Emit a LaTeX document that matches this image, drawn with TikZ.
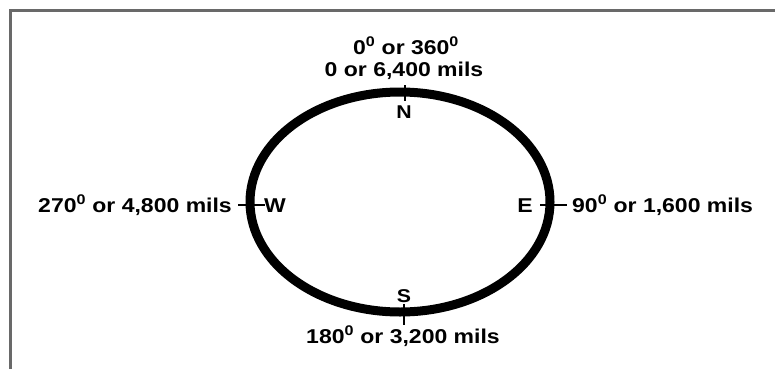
\documentclass[tikz,border=0pt]{standalone}
\usepackage{fontspec}
\usetikzlibrary{shapes.geometric}
\setmainfont{Liberation Sans}[FakeStretch=1.15]
\begin{document}
\begin{tikzpicture}[x=1pt,y=-1pt,
  lbl/.style={inner sep=0pt,anchor=base,font=\fontsize{20}{22}\selectfont\bfseries},
  dirlbl/.style={inner sep=0pt,anchor=base,font=\fontsize{18.5}{20}\selectfont\bfseries},
  tick/.style={line width=2.6pt,black},
  frame/.style={line width=2.4pt,color={rgb,255:red,105;green,105;blue,105}}]
\useasboundingbox (0,0) rectangle (775,369);
% frame
\coordinate (fb) at (10.5,369);
\coordinate (fc) at (10.5,10.5);
\coordinate (fr) at (775,10.5);
\draw[frame] (fb) -- (fc) -- (fr);
% compass ring
\node[draw,ellipse,line width=9pt,minimum width=300pt,minimum height=220pt,inner sep=0pt] (ring) at (400,202) {};
% ticks
\coordinate (n1) at (405,85);  \coordinate (n2) at (405,101);
\coordinate (s1) at (404,304); \coordinate (s2) at (404,325);
\coordinate (w1) at (238,205); \coordinate (w2) at (265,205);
\coordinate (e1) at (540,205); \coordinate (e2) at (567,205);
\draw[tick] (n1) -- (n2);
\draw[tick] (s1) -- (s2);
\draw[tick] (w1) -- (w2);
\draw[tick] (e1) -- (e2);
% labels
\node[lbl] (top1) at (406,54) {0\textsuperscript{0} or 360\textsuperscript{0}};
\node[lbl] (top2) at (404,76) {0 or 6,400 mils};
\node[dirlbl] (N) at (404,118) {N};
\node[dirlbl] (S) at (404,302) {S};
\node[lbl,anchor=base west] (W) at (264,212) {W};
\node[lbl,anchor=base east] (E) at (533,212) {E};
\node[lbl,anchor=base east] (wl) at (232,212) {270\textsuperscript{0} or 4,800 mils};
\node[lbl,anchor=base west] (el) at (572,212) {90\textsuperscript{0} or 1,600 mils};
\node[lbl] (sl) at (403,343) {180\textsuperscript{0} or 3,200 mils};
\end{tikzpicture}
\end{document}
